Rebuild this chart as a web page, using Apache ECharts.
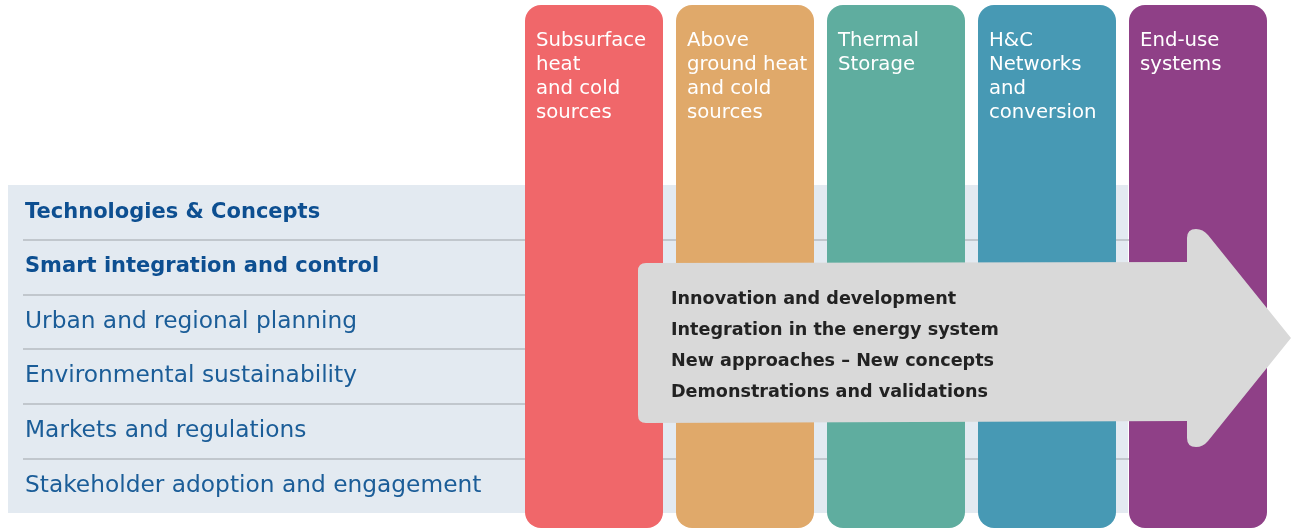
<!DOCTYPE html>
<html>
<head>
<meta charset="utf-8">
<script src="https://cdn.jsdelivr.net/npm/echarts@6/dist/echarts.min.js"></script>
<style>
  html, body { margin: 0; padding: 0; background: #fff; }
  #chart { width: 1291px; height: 528px; }
</style>
</head>
<body>
<div id="chart"></div>
<script>
// columns (top) and rows (left band)
const columnNames = [
  'Subsurface\nheat\nand cold\nsources',
  'Above\nground heat\nand cold\nsources',
  'Thermal\nStorage',
  'H&C\nNetworks\nand\nconversion',
  'End-use\nsystems'
]
const columnColors = ['#f0676a', '#e0a96a', '#5fad9f', '#4799b4', '#8f4087']
const columnSpan = [1, 1, 1, 1, 1] // every column runs the full height

const rowLabels = [
  'Technologies & Concepts',
  'Smart integration and control',
  'Urban and regional planning',
  'Environmental sustainability',
  'Markets and regulations',
  'Stakeholder adoption and engagement'
]
const boldRows = 2 // first two rows are bold

const arrowLines = [
  'Innovation and development',
  'Integration in the energy system',
  'New approaches \u2013 New concepts',
  'Demonstrations and validations'
]

const font = "'DejaVu Sans', sans-serif"
const arrowPath = 'M646 263 L1187 262 L1187 238 Q1187 229 1196 229 Q1203 229 1208 235 L1291 338 L1208 441 Q1203 447 1196 447 Q1187 447 1187 438 L1187 421 L646 423 Q638 423 638 415 L638 271 Q638 263 646 263 Z'

const chart = echarts.init(document.getElementById('chart'))

chart.setOption({
  animation: false,
  grid: [
    // band with row labels
    { left: 8, right: 163, top: 185, bottom: 15, show: true, backgroundColor: '#e3eaf1', borderWidth: 0 },
    // separators
    { left: 23, right: 162, top: 185, bottom: 15 },
    // columns
    { left: 518.5, width: 755, top: 5, bottom: 0 }
  ],
  xAxis: [
    { gridIndex: 0, type: 'value', show: false },
    { gridIndex: 1, type: 'value', show: false },
    { gridIndex: 2, type: 'category', data: columnNames, show: false }
  ],
  yAxis: [
    {
      gridIndex: 0,
      type: 'category',
      inverse: true,
      data: rowLabels,
      axisLine: { show: false },
      axisTick: { show: false },
      splitLine: { show: false },
      axisLabel: {
        inside: true,
        margin: 17,
        fontFamily: font,
        fontSize: 23.3,
        color: '#1b5d98',
        formatter: (v, i) => (i < boldRows ? '{b|' + v + '}' : v),
        rich: {
          b: { fontFamily: font, fontSize: 21, fontWeight: 'bold', color: '#0d4f91' }
        }
      }
    },
    {
      gridIndex: 1,
      type: 'value',
      inverse: true,
      min: 0,
      max: rowLabels.length,
      interval: 1,
      axisLine: { show: false },
      axisTick: { show: false },
      axisLabel: { show: false },
      splitLine: {
        show: true,
        showMinLine: false,
        showMaxLine: false,
        lineStyle: { color: '#b6bbc0', width: 1.5 }
      }
    },
    { gridIndex: 2, type: 'value', min: 0, max: 1, show: false }
  ],
  series: [
    {
      type: 'bar',
      xAxisIndex: 2,
      yAxisIndex: 2,
      barWidth: 138,
      z: 5,
      data: columnSpan.map((v, i) => ({
        value: v,
        itemStyle: { color: columnColors[i], borderRadius: 16 }
      })),
      label: {
        show: true,
        position: [11, 24],
        align: 'left',
        verticalAlign: 'top',
        formatter: p => p.name,
        fontFamily: font,
        fontSize: 19.7,
        lineHeight: 24,
        color: '#ffffff'
      }
    },
    {
      // the big grey arrow with its text
      type: 'custom',
      coordinateSystem: 'none',
      z: 20,
      silent: true,
      data: [0],
      renderItem: () => ({
        type: 'group',
        children: [
          {
            type: 'path',
            shape: { pathData: arrowPath, x: 638, y: 229, width: 653, height: 218, layout: 'cover' },
            style: { fill: '#d9d9d9' }
          },
          {
            type: 'text',
            x: 671,
            y: 284,
            style: {
              text: arrowLines.join('\n'),
              font: 'bold 17.6px ' + font,
              lineHeight: 31,
              fill: '#222222',
              verticalAlign: 'top'
            }
          }
        ]
      })
    }
  ]
})
</script>
</body>
</html>
